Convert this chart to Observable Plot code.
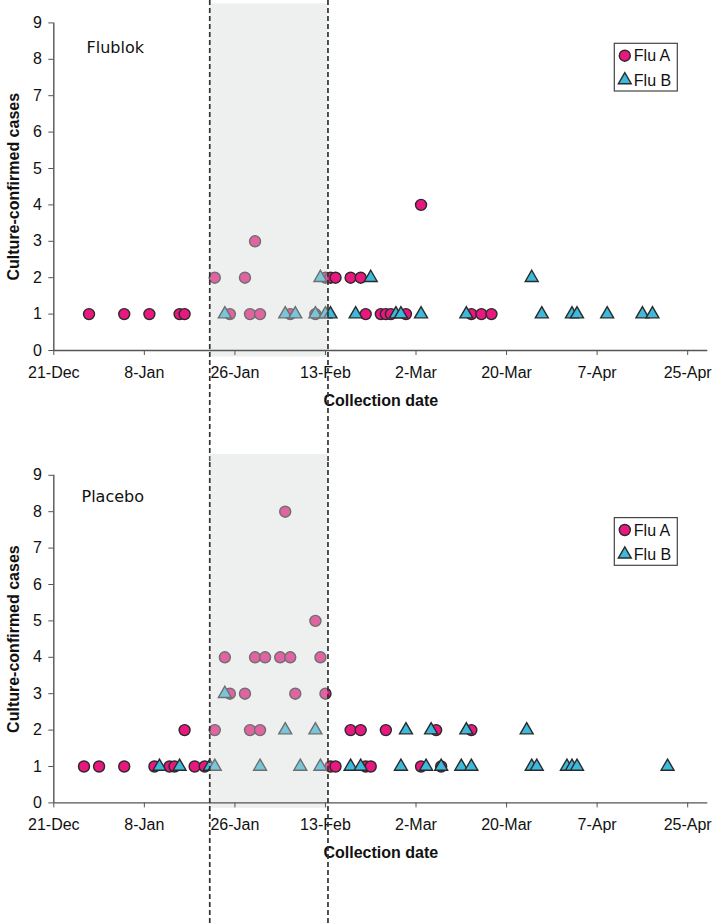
<!DOCTYPE html>
<html><head><meta charset="utf-8">
<script src="https://cdn.jsdelivr.net/npm/d3@7"></script>
<script src="https://cdn.jsdelivr.net/npm/@observablehq/plot@0.6"></script>
<style>
html,body{margin:0;padding:0;background:#fff;overflow:hidden}
#chart svg{display:block}
</style></head><body><div id="chart"></div>
<script>
// ---- data ----
const xTickDates = ["2007-12-21","2008-01-08","2008-01-26","2008-02-13","2008-03-02","2008-03-20","2008-04-07","2008-04-25"];
const yTicks = [0,1,2,3,4,5,6,7,8,9];
const xDomain = ["2007-12-21","2008-04-29"];
const seriesNames = ["Flu A","Flu B"];
const panelNames = ["Flublok","Placebo"];
const period = ["2008-01-21T00:00Z","2008-02-13T12:00Z"];

const flublokA_dates = ["2007-12-28","2008-01-04","2008-01-09","2008-01-15","2008-01-16","2008-01-22","2008-01-25","2008-01-28","2008-01-29","2008-01-30","2008-01-31","2008-02-06","2008-02-11","2008-02-13","2008-02-14","2008-02-15","2008-02-18","2008-02-20","2008-02-21","2008-02-24","2008-02-25","2008-02-26","2008-02-29","2008-03-03","2008-03-13","2008-03-15","2008-03-17"];
const flublokA_cases = [1,1,1,1,1,2,1,2,1,3,1,1,1,2,2,2,2,2,1,1,1,1,1,4,1,1,1];
const flublokB_dates = ["2008-01-24","2008-02-05","2008-02-07","2008-02-11","2008-02-12","2008-02-13","2008-02-14","2008-02-19","2008-02-22","2008-02-27","2008-02-28","2008-03-03","2008-03-12","2008-03-25","2008-03-27","2008-04-02","2008-04-03","2008-04-09","2008-04-16","2008-04-18"];
const flublokB_cases = [1,1,1,1,2,1,1,1,2,1,1,1,1,2,1,1,1,1,1,1];

const placeboA_dates = ["2007-12-27","2007-12-30","2008-01-04","2008-01-10","2008-01-13","2008-01-14","2008-01-16","2008-01-18","2008-01-20","2008-01-22","2008-01-24","2008-01-25","2008-01-28","2008-01-29","2008-01-30","2008-01-31","2008-02-01","2008-02-04","2008-02-05","2008-02-06","2008-02-07","2008-02-11","2008-02-12","2008-02-13","2008-02-14","2008-02-15","2008-02-18","2008-02-20","2008-02-21","2008-02-22","2008-02-25","2008-03-03","2008-03-06","2008-03-07","2008-03-13"];
const placeboA_cases = [1,1,1,1,1,1,2,1,1,2,4,3,3,2,4,2,4,4,8,4,3,5,4,3,1,1,2,2,1,1,2,1,2,1,2];
const placeboB_dates = ["2008-01-11","2008-01-15","2008-01-21","2008-01-22","2008-01-24","2008-01-31","2008-02-05","2008-02-08","2008-02-11","2008-02-12","2008-02-18","2008-02-20","2008-02-28","2008-02-29","2008-03-04","2008-03-05","2008-03-07","2008-03-11","2008-03-12","2008-03-13","2008-03-24","2008-03-25","2008-03-26","2008-04-01","2008-04-02","2008-04-03","2008-04-21"];
const placeboB_cases = [1,1,1,1,3,1,2,1,2,1,1,1,1,2,1,2,1,1,2,1,2,1,1,1,1,1,1];

// ---- styles ----
const colA = "#e8187f", colB = "#3db9dc", edge = "#2a2a2a";
const fontMain = "'Liberation Sans', Arial, sans-serif";
const rows = (dates, cases) => dates.map((d, i) => ({date: new Date(d), cases: cases[i]}));
const fmt = d3.utcFormat("%-d-%b");

function panel(cfg) {
  const A = rows(cfg.aDates, cfg.aCases), B = rows(cfg.bDates, cfg.bCases);
  const per = [{start: new Date(period[0]), end: new Date(period[1])}];
  const svg = Plot.plot({
    width: 715, height: cfg.height,
    marginTop: cfg.mt, marginBottom: cfg.mb, marginLeft: 53.3, marginRight: 7.7,
    style: {fontFamily: fontMain, fontSize: "16px", color: "#000", background: "#fff", overflow: "visible"},
    x: {type: "utc", domain: xDomain.map(d => new Date(d))},
    y: {domain: [0, 9]},
    marks: [
      Plot.dot(A, {x: "date", y: "cases", r: 5.5, symbol: "circle", fill: colA, stroke: edge, strokeWidth: 1.4}),
      Plot.dot(B, {x: "date", y: "cases", r: 4.8, symbol: "triangle", fill: colB, stroke: edge, strokeWidth: 1.4}),
      Plot.rect(per, {x1: "start", x2: "end", y1: cfg.shadeLo, y2: cfg.shadeHi, fill: "#d4d6d6", fillOpacity: 0.4}),
      Plot.ruleY([0], {stroke: "#555", strokeWidth: 1.4}),
      Plot.ruleX([new Date(xDomain[0])], {y1: 0, y2: 9, stroke: "#555", strokeWidth: 1.4}),
      Plot.axisX({ticks: xTickDates.map(d => new Date(d)), tickFormat: fmt, tickSize: 5, tickPadding: 11, label: null, stroke: "#555", fill: "#111", fontSize: 16}),
      Plot.axisY({ticks: yTicks, tickFormat: d => String(d), tickSize: 5, tickPadding: 7, label: null, stroke: "#555", fill: "#111", fontSize: 16}),
      Plot.text(["Collection date"], {frameAnchor: "bottom", textAnchor: "middle", lineAnchor: "middle", dy: 50, fontWeight: "bold", fontSize: 16, fill: "#111"}),
      Plot.text(["Culture-confirmed cases"], {frameAnchor: "left", textAnchor: "middle", lineAnchor: "middle", rotate: -90, dx: -40, fontWeight: "bold", fontSize: 16, fill: "#111"}),
      Plot.text([cfg.label], {frameAnchor: "top-left", textAnchor: "start", lineAnchor: "middle", dx: cfg.labelDx, dy: cfg.labelDy, fontFamily: "'DejaVu Sans', Verdana, sans-serif", fontSize: 16, fill: "#111"}),
      Plot.ruleX(per.flatMap(p => [p.start, p.end]), {stroke: "#333", strokeWidth: 1.7, strokeDasharray: "5,3", insetTop: -cfg.mt, insetBottom: -cfg.mb})
    ]
  });
  // in-plot legend
  const g = d3.select(svg).append("g").attr("transform", `translate(614.3,${cfg.legendTop})`);
  g.append("rect").attr("width", 63).attr("height", 47.7).attr("fill", "#fff").attr("stroke", "#444").attr("stroke-width", 1.2);
  const syms = [d3.symbolCircle, d3.symbolTriangle], rs = [5.5, 4.8], cols = [colA, colB];
  seriesNames.forEach((name, i) => {
    const cy = 12.4 + i * 24.3;
    g.append("path").attr("transform", `translate(10.5,${cy})`)
      .attr("d", d3.symbol(syms[i], Math.PI * rs[i] * rs[i])())
      .attr("fill", cols[i]).attr("stroke", edge).attr("stroke-width", 1.4);
    g.append("text").attr("x", 19.5).attr("y", cy).attr("dy", "0.35em").attr("text-anchor", "start")
      .attr("font-family", fontMain).attr("font-size", 16).attr("fill", "#111").text(name);
  });
  return svg;
}

const root = document.getElementById("chart");
root.appendChild(panel({label: panelNames[0], aDates: flublokA_dates, aCases: flublokA_cases, bDates: flublokB_dates, bCases: flublokB_cases,
  height: 462, mt: 22.4, mb: 112, shadeLo: -0.18, shadeHi: 9.52, labelDx: 32.7, labelDy: 25.3, legendTop: 43.3}));
root.appendChild(panel({label: panelNames[1], aDates: placeboA_dates, aCases: placeboA_cases, bDates: placeboB_dates, bCases: placeboB_cases,
  height: 462, mt: 12.8, mb: 121.6, shadeLo: -0.15, shadeHi: 9.57, labelDx: 27.7, labelDy: 21.9, legendTop: 55.6}));
</script></body></html>
